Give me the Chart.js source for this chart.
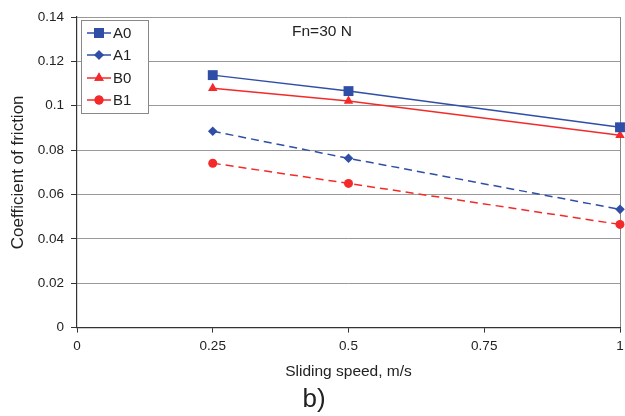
<!DOCTYPE html>
<html>
<head>
<meta charset="utf-8">
<script src="https://cdn.jsdelivr.net/npm/chart.js@4.4.1/dist/chart.umd.min.js"></script>
<style>
  html, body { margin: 0; padding: 0; background: #fff; }
  #wrap { width: 625px; height: 416px; }
</style>
</head>
<body>
<div id="wrap"><canvas id="myChart"></canvas></div>
<script>
// sliding speed (m/s) and friction coefficient per material
var speeds = [0.25, 0.5, 1];
var a0 = [0.1138, 0.1066, 0.0903];
var a1 = [0.0885, 0.0763, 0.0533];
var b0 = [0.1079, 0.1021, 0.0867];
var b1 = [0.0741, 0.0650, 0.0465];
var xTicks = [0, 0.25, 0.5, 0.75, 1];

var blue = "#2f4ea6";
var red = "#f42a2a";
var font = "'Liberation Sans', Arial, sans-serif";

function pts(vals) {
    return speeds.map(function(s, i) { return { x: s, y: vals[i] }; });
}

var markerSize = { rect: 7, rectRot: 4.8, triangle: 5.5, circle: 4.5 };

function series(label, vals, color, marker, dashed) {
    return {
        label: label,
        data: pts(vals),
        borderColor: color,
        backgroundColor: color,
        borderWidth: 1.5,
        borderDash: dashed ? [8, 5] : [],
        pointStyle: marker,
        pointRadius: markerSize[marker],
        pointBorderWidth: 0,
        tension: 0,
        clip: false
    };
}

// legend box and the load note inside the plot
var boxLegend = {
    id: "boxLegend",
    afterDraw: function(chart) {
        var ctx = chart.ctx;
        ctx.save();
        ctx.fillStyle = "#fff";
        ctx.fillRect(81, 20, 67, 93);
        ctx.strokeStyle = "#888";
        ctx.lineWidth = 1;
        ctx.strokeRect(81.5, 20.5, 67, 93);
        var rows = [33, 55, 78, 100];
        chart.data.datasets.forEach(function(ds, i) {
            var y = rows[i];
            ctx.strokeStyle = ds.borderColor;
            ctx.lineWidth = 1.5;
            ctx.setLineDash([]);
            ctx.beginPath();
            ctx.moveTo(87, y);
            ctx.lineTo(111, y);
            ctx.stroke();
            ctx.fillStyle = ds.backgroundColor;
            Chart.helpers.drawPoint(ctx, { pointStyle: ds.pointStyle, radius: ds.pointRadius, borderWidth: 0 }, 99, y);
            ctx.fill();
            ctx.fillStyle = "#222";
            ctx.font = "15px " + font;
            ctx.textBaseline = "middle";
            ctx.fillText(ds.label, 113, y + 1);
        });
        ctx.fillStyle = "#222";
        ctx.font = "15.5px " + font;
        ctx.textBaseline = "middle";
        ctx.fillText("Fn=30 N", 292, 32);
        ctx.restore();
    }
};

new Chart(document.getElementById("myChart").getContext("2d"), {
    type: "line",
    data: {
        datasets: [
            series("A0", a0, blue, "rect", false),
            series("A1", a1, blue, "rectRot", true),
            series("B0", b0, red, "triangle", false),
            series("B1", b1, red, "circle", true)
        ]
    },
    options: {
        responsive: true,
        maintainAspectRatio: false,
        animation: false,
        layout: { autoPadding: false, padding: { top: 17, right: 5, left: 8, bottom: 2 } },
        plugins: {
            legend: { display: false },
            tooltip: { enabled: false },
            title: {
                display: true,
                position: "bottom",
                text: "b)",
                color: "#222",
                font: { family: font, size: 26, weight: "normal", lineHeight: 1.1 },
                padding: { top: 4, bottom: 0 }
            }
        },
        scales: {
            x: {
                type: "linear",
                min: 0,
                max: 1,
                afterBuildTicks: function(scale) {
                    scale.ticks = xTicks.map(function(v) { return { value: v }; });
                },
                afterFit: function(scale) { scale.paddingRight = 0; scale.paddingLeft = 0; },
                ticks: {
                    color: "#222",
                    font: { family: font, size: 13.5 },
                    padding: 6,
                    maxRotation: 0,
                    callback: function(v) { return String(v); }
                },
                grid: {
                    color: function(c) { return c.tick && c.tick.value == 1 ? "#888" : "rgba(0,0,0,0)"; },
                    tickColor: "#333",
                    tickLength: 5,
                    lineWidth: 1
                },
                border: { color: "#333", width: 1.2 },
                title: {
                    display: true,
                    text: "Sliding speed, m/s",
                    color: "#222",
                    font: { family: font, size: 15.5 },
                    padding: { top: 2, bottom: 0 }
                }
            },
            y: {
                min: 0,
                max: 0.14,
                afterFit: function(scale) { scale.width = 69; },
                ticks: {
                    stepSize: 0.02,
                    color: "#222",
                    font: { family: font, size: 13.5 },
                    padding: 7,
                    callback: function(v) { return String(Math.round(v * 100) / 100); }
                },
                grid: { color: "#999", tickColor: "#333", tickLength: 6, lineWidth: 1 },
                border: { color: "#333", width: 1.2 },
                title: {
                    display: true,
                    text: "Coefficient of friction",
                    color: "#222",
                    font: { family: font, size: 17 },
                    padding: { top: 0, bottom: 2 }
                }
            }
        }
    },
    plugins: [boxLegend]
});
</script>
</body>
</html>
